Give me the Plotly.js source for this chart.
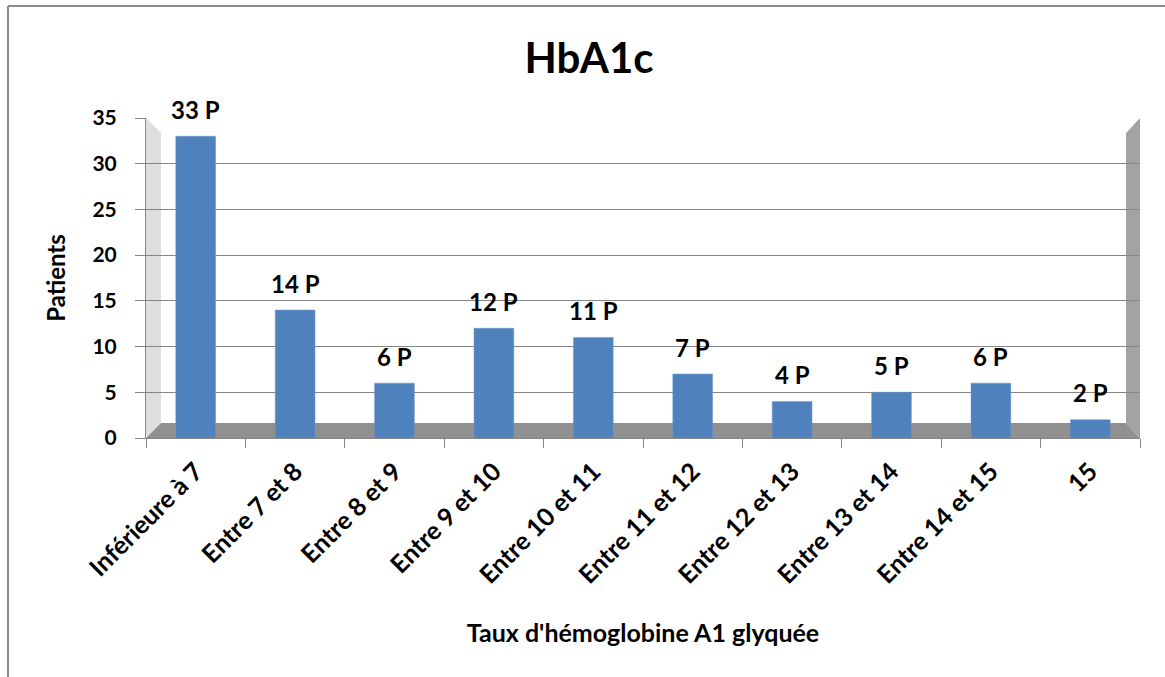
<!DOCTYPE html>
<html>
<head>
<meta charset="utf-8">
<script src="https://cdn.plot.ly/plotly-3.0.1.min.js"></script>
<style>
html,body{margin:0;padding:0;background:#fff;}
#chart{width:1165px;height:677px;}
</style>
</head>
<body>
<div id="chart"></div>
<script>
// ---- data ----
const categories = ["Inférieure à 7","Entre 7 et 8","Entre 8 et 9","Entre 9 et 10","Entre 10 et 11","Entre 11 et 12","Entre 12 et 13","Entre 13 et 14","Entre 14 et 15","15"];
const patients = [33,14,6,12,11,7,4,5,6,2];
const labelSuffix = " P";
const chartTitle = "HbA1c";
const xTitle = "Taux d'hémoglobine A1 glyquée";
const yTitle = "Patients";

// ---- geometry helpers (pixel -> paper) ----
const W = 1165, H = 677;
const L = 146, R = 1140, T = 118, B = 438;
const px = p => (p - L) / (R - L);
const py = p => (B - p) / (B - T);
const pt = (x, y) => px(x) + "," + py(y);

const FONT = "Lato, 'Open Sans', sans-serif";

const trace = {
  type: "bar",
  x: categories,
  y: patients,
  width: 0.4,
  marker: {color: "#4f81bd", line: {color: "#6a96cc", width: 0.5}},
  hoverinfo: "x+y"
};

// category index used as annotation position (category names like "15" would be read as an index)
const annotations = categories.map((c, i) => ({
  x: i, y: patients[i], xref: "x", yref: "y",
  text: patients[i] + labelSuffix,
  showarrow: false, yanchor: "middle", yshift: 27,
  font: {family: FONT, size: 24, color: "#000", weight: "bold"}
}));

const shapes = [
  // left wall
  {type: "path", xref: "paper", yref: "paper", layer: "below",
   path: "M" + pt(146,118) + " L" + pt(161,133) + " L" + pt(161,423) + " L" + pt(146,438) + " Z",
   fillcolor: "#dedede", line: {width: 0}},
  // floor
  {type: "path", xref: "paper", yref: "paper", layer: "below",
   path: "M" + pt(146,438) + " L" + pt(161,423) + " L" + pt(1126,423) + " L" + pt(1140,438) + " Z",
   fillcolor: "#909090", line: {width: 0}},
  // right wall
  {type: "path", xref: "paper", yref: "paper", layer: "below",
   path: "M" + pt(1126,133) + " L" + pt(1140,118) + " L" + pt(1140,438) + " L" + pt(1126,423) + " Z",
   fillcolor: "#a3a3a3", line: {width: 0}},
  // outer frame (left and top)
  {type: "line", xref: "paper", yref: "paper", layer: "above",
   x0: px(8), x1: px(8), y0: py(6), y1: py(690), line: {color: "#8c8c8c", width: 2}},
  {type: "line", xref: "paper", yref: "paper", layer: "above",
   x0: px(8), x1: px(1180), y0: py(6), y1: py(6), line: {color: "#8c8c8c", width: 2}}
];

const layout = {
  width: W, height: H,
  margin: {l: L, r: W - R, t: T, b: H - B, pad: 0},
  paper_bgcolor: "#ffffff",
  plot_bgcolor: "rgba(0,0,0,0)",
  showlegend: false,
  title: {
    text: chartTitle, xref: "paper", x: px(589), xanchor: "center",
    yref: "container", y: 1 - 58 / H, yanchor: "middle",
    font: {family: FONT, size: 42, color: "#000", weight: "bold"}
  },
  xaxis: {
    type: "category",
    range: [-0.5, categories.length - 0.5],
    tickson: "boundaries",
    ticks: "outside", ticklen: 9, tickcolor: "#868686", tickwidth: 1,
    showline: true, linecolor: "#868686", linewidth: 1,
    showgrid: false, zeroline: false,
    tickangle: -45,
    ticklabelstandoff: 8,
    tickfont: {family: FONT, size: 25, color: "#000", weight: "bold"},
    title: {text: xTitle, standoff: 36,
            font: {family: FONT, size: 25, color: "#000", weight: "bold"}},
    automargin: false
  },
  yaxis: {
    range: [0, 35], dtick: 5, tick0: 0,
    ticks: "outside", ticklen: 10, tickcolor: "#868686", tickwidth: 1,
    showline: true, linecolor: "#868686", linewidth: 1,
    showgrid: true, gridcolor: "#868686", gridwidth: 1,
    zeroline: false,
    ticklabelstandoff: 14,
    tickfont: {family: FONT, size: 21, color: "#000", weight: "bold"},
    title: {text: yTitle, standoff: 20,
            font: {family: FONT, size: 24, color: "#000", weight: "bold"}},
    automargin: false
  },
  annotations: annotations,
  shapes: shapes
};

Plotly.newPlot("chart", [trace], layout, {displayModeBar: false});
</script>
</body>
</html>
